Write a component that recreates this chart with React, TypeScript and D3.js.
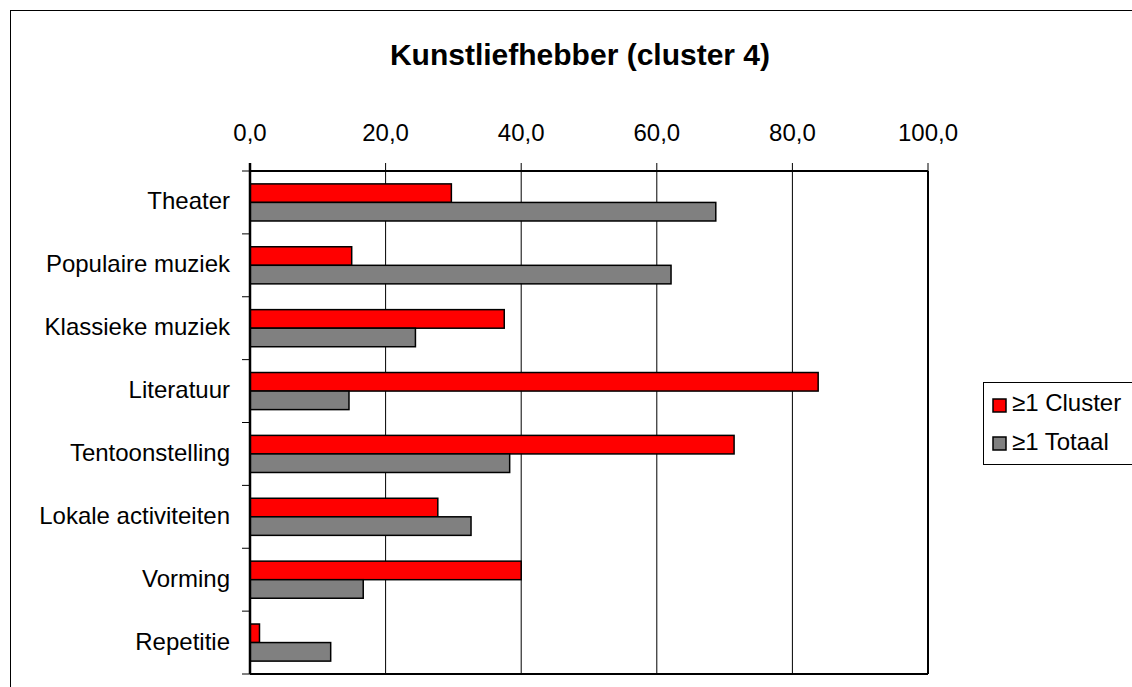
import React from "react";
import * as d3 from "d3";

const categories = [
  "Theater",
  "Populaire muziek",
  "Klassieke muziek",
  "Literatuur",
  "Tentoonstelling",
  "Lokale activiteiten",
  "Vorming",
  "Repetitie",
];
const clusterValues = [29.7, 15.0, 37.5, 83.8, 71.4, 27.7, 40.0, 1.4];
const totaalValues = [68.7, 62.1, 24.4, 14.6, 38.3, 32.6, 16.7, 11.9];
const seriesNames = ["\u22651 Cluster", "\u22651 Totaal"];
const seriesColors = ["#FF0000", "#808080"];
const xTicks = [0, 20, 40, 60, 80, 100];
const title = "Kunstliefhebber (cluster 4)";

const W = 1132;
const H = 687;
const plot = { left: 250, right: 928, top: 171, bottom: 674 };
const FONT = "'Liberation Sans', Arial, sans-serif";

export default function App() {
  const x = d3.scaleLinear().domain([0, 100]).range([plot.left, plot.right]);
  const y = d3
    .scaleBand<string>()
    .domain(categories)
    .range([plot.top, plot.bottom])
    .paddingInner(0.41)
    .paddingOuter(0.205);
  const sub = d3
    .scaleBand<number>()
    .domain([0, 1])
    .range([0, y.bandwidth()]);
  const series = [clusterValues, totaalValues];
  const step = y.step();
  const boundaries = d3.range(categories.length + 1).map((i) => plot.top + i * step);
  const fmt = (v: number) => v.toFixed(1).replace(".", ",");

  return (
    <svg
      width={W}
      height={H}
      style={{ position: "absolute", left: 0, top: 0, background: "#fff" }}
      fontFamily={FONT}
    >
      <rect x={10.5} y={10.5} width={W + 20} height={H + 20} fill="#fff" stroke="#000" strokeWidth={1} />
      <text x={580} y={65} textAnchor="middle" fontSize={30} fontWeight="bold" fill="#000">
        {title}
      </text>
      {/* gridlines */}
      {xTicks.slice(1, -1).map((t) => (
        <line key={"g" + t} x1={x(t)} x2={x(t)} y1={plot.top} y2={plot.bottom} stroke="#000" strokeWidth={1} />
      ))}
      {/* top ticks + labels */}
      {xTicks.map((t) => (
        <g key={"t" + t}>
          <line x1={x(t)} x2={x(t)} y1={plot.top - 8} y2={plot.top} stroke="#000" strokeWidth={1} />
          <text x={x(t)} y={141} textAnchor="middle" fontSize={24} fill="#000">
            {fmt(t)}
          </text>
        </g>
      ))}
      {/* left ticks */}
      {boundaries.map((b, i) => (
        <line key={"l" + i} x1={plot.left - 8} x2={plot.left} y1={b} y2={b} stroke="#000" strokeWidth={1} />
      ))}
      {/* bars */}
      {categories.map((c, i) => (
        <g key={c}>
          {series.map((vals, s) => (
            <rect
              key={s}
              x={x(0)}
              y={(y(c) as number) + (sub(s) as number)}
              width={x(vals[i]) - x(0)}
              height={sub.bandwidth()}
              fill={seriesColors[s]}
              stroke="#000"
              strokeWidth={1.5}
            />
          ))}
          <text x={230} y={(y(c) as number) + y.bandwidth() / 2 + 7} textAnchor="end" fontSize={24} fill="#000">
            {c}
          </text>
        </g>
      ))}
      {/* plot frame */}
      <line x1={plot.left} x2={plot.right} y1={plot.top} y2={plot.top} stroke="#000" strokeWidth={2} />
      <line x1={plot.right} x2={plot.right} y1={plot.top} y2={plot.bottom} stroke="#000" strokeWidth={2} />
      <line x1={plot.left} x2={plot.right} y1={plot.bottom} y2={plot.bottom} stroke="#000" strokeWidth={2} />
      <line x1={plot.left} x2={plot.left} y1={plot.top - 8} y2={plot.bottom} stroke="#000" strokeWidth={2.5} />
      {/* legend */}
      <rect x={983.5} y={382.5} width={170} height={82} fill="#fff" stroke="#000" strokeWidth={1} />
      {seriesNames.map((n, s) => (
        <g key={n}>
          <rect x={993} y={399 + s * 38} width={13} height={13} fill={seriesColors[s]} stroke="#000" strokeWidth={1.5} />
          <text x={1012} y={411 + s * 39} fontSize={24} fill="#000">
            {n}
          </text>
        </g>
      ))}
    </svg>
  );
}
